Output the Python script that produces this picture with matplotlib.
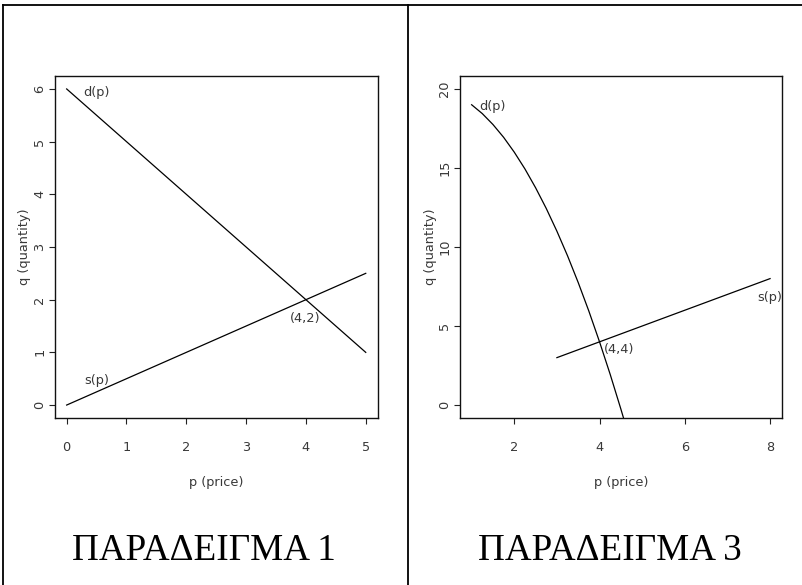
import matplotlib
matplotlib.use("Agg")
import matplotlib.pyplot as plt
from matplotlib.lines import Line2D

# ---- data ----
# Example 1
p1 = [0, 5]
d1 = [6, 1]
s1 = [0, 2.5]
ex1_xticks = [0, 1, 2, 3, 4, 5]
ex1_yticks = [0, 1, 2, 3, 4, 5, 6]

# Example 3
p3_d = [1.0, 1.25, 1.5, 1.75, 2.0, 2.25, 2.5, 2.75, 3.0, 3.25, 3.5, 3.75,
        4.0, 4.25, 4.5, 4.6]
d3 = [19.0, 18.44, 17.75, 16.94, 16.0, 14.94, 13.75, 12.44, 11.0, 9.44,
      7.75, 5.94, 4.0, 1.94, -0.25, -1.16]
p3_s = [3, 8]
s3 = [3, 8]
ex3_xticks = [2, 4, 6, 8]
ex3_yticks = [0, 5, 10, 15, 20]

titles = ["ΠΑΡΑΔΕΙΓΜΑ 1", "ΠΑΡΑΔΕΙΓΜΑ 3"]

W, H = 803, 585
fig = plt.figure(figsize=(W / 100, H / 100), dpi=100)
fig.patch.set_facecolor("white")

TXT = "#383838"
FONT = "DejaVu Sans"
FS = 9.3


def fx(px):
    return px / W


def fy(py):
    return 1 - py / H


def style_axes(ax, xlim, ylim, xticks, yticks):
    ax.set_xlim(*xlim)
    ax.set_ylim(*ylim)
    ax.set_xticks(xticks)
    ax.set_yticks(yticks)
    ax.tick_params(axis="both", direction="out", length=4.5, width=0.8,
                   colors="#222222", labelcolor=TXT, labelsize=FS)
    ax.tick_params(axis="x", pad=12)
    ax.tick_params(axis="y", pad=1.5)
    for lab in ax.get_yticklabels():
        lab.set_rotation(90)
        lab.set_va("center")
        lab.set_ha("right")
        lab.set_fontfamily(FONT)
    for lab in ax.get_xticklabels():
        lab.set_fontfamily(FONT)
    for sp in ax.spines.values():
        sp.set_color("#111111")
        sp.set_linewidth(1.0)
    ax.set_xlabel("p (price)", fontsize=FS, color=TXT, family=FONT)
    ax.set_ylabel("q (quantity)", fontsize=FS, color=TXT, family=FONT)
    ax.xaxis.label.set_va("center")
    ax.yaxis.label.set_va("center")
    ax.xaxis.set_label_coords(0.5, -0.190)
    ax.yaxis.set_label_coords(-0.092, 0.5)


bottom = (H - 417.7) / H
height = 341.4 / H

# ---- panel 1 ----
ax1 = fig.add_axes([fx(54.7), bottom, 323 / W, height])
ax1.plot(p1, d1, color="black", lw=0.9)
ax1.plot(p1, s1, color="black", lw=0.9)
style_axes(ax1, (-0.2, 5.2), (-0.24, 6.24), ex1_xticks, ex1_yticks)
ax1.text(0.5, 5.93, "d(p)", ha="center", va="center", fontsize=FS,
         color=TXT, family=FONT)
ax1.text(0.5, 0.46, "s(p)", ha="center", va="center", fontsize=FS,
         color=TXT, family=FONT)
ax1.text(3.98, 1.65, "(4,2)", ha="center", va="center", fontsize=FS,
         color=TXT, family=FONT)

# ---- panel 3 ----
ax3 = fig.add_axes([fx(459.7), bottom, 322.3 / W, height])
ax3.plot(p3_d, d3, color="black", lw=0.9)
ax3.plot(p3_s, s3, color="black", lw=0.9)
style_axes(ax3, (0.72, 8.28), (-0.8, 20.8), ex3_xticks, ex3_yticks)
ax3.text(1.49, 18.9, "d(p)", ha="center", va="center", fontsize=FS,
         color=TXT, family=FONT)
ax3.text(8.0, 6.83, "s(p)", ha="center", va="center", fontsize=FS,
         color=TXT, family=FONT, clip_on=True)
ax3.text(4.46, 3.5, "(4,4)", ha="center", va="center", fontsize=FS,
         color=TXT, family=FONT)

# ---- big titles ----
fig.text(fx(204), fy(560), titles[0], ha="center", va="baseline",
         fontsize=26.7, family="Liberation Serif", color="black")
fig.text(fx(610), fy(560), titles[1], ha="center", va="baseline",
         fontsize=26.7, family="Liberation Serif", color="black")

# ---- table borders ----
lw_b = 1.3
fig.add_artist(Line2D([fx(3.5), 1], [fy(5.3), fy(5.3)], color="black",
                      lw=lw_b, transform=fig.transFigure))
fig.add_artist(Line2D([fx(3.5), fx(3.5)], [fy(5.3), 0], color="black",
                      lw=lw_b, transform=fig.transFigure))
fig.add_artist(Line2D([fx(408.3), fx(408.3)], [fy(5.3), 0], color="black",
                      lw=lw_b, transform=fig.transFigure))

fig.savefig("out.png", dpi=100, facecolor="white")
